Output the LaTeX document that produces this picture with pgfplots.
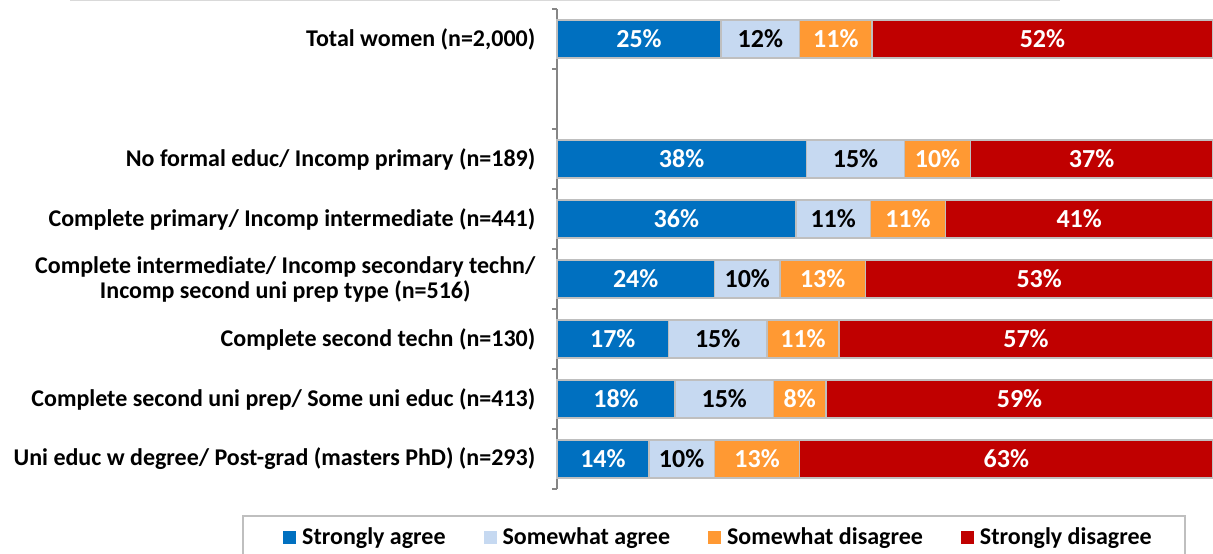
\documentclass[border=0pt]{standalone}
\usepackage{fontspec}
\setmainfont{Carlito}
\usepackage{pgfplots}
\usepackage{pgfplotstable}
\pgfplotsset{compat=1.18}
\definecolor{cSA}{HTML}{0070C0}
\definecolor{cWA}{HTML}{C6D9F1}
\definecolor{cWD}{HTML}{FF9933}
\definecolor{cSD}{HTML}{C00000}
\definecolor{cEdge}{HTML}{BFBFBF}
\definecolor{cAxis}{HTML}{868686}
% lengths (sa wa wd sd) and printed labels (la lb lc ld)
\pgfplotstableread{
pos sa wa wd sd la lb lc ld
0 25 12 11 52 25 12 11 52
2 38 15 10 37 38 15 10 37
3 36.4 11.4 11.4 40.8 36 11 11 41
4 24 10 13 53 24 10 13 53
5 17 15 11 57 17 15 11 57
6 18 15 8 59 18 15 8 59
7 14 10 13 63 14 10 13 63
}\datatable
\newcommand{\lblfont}{\fontsize{24}{25}\selectfont\bfseries}
\newcommand{\barfont}{\fontsize{26}{28}\selectfont\bfseries}
\begin{document}
\begin{tikzpicture}[font=\lblfont]
\begin{axis}[
  at={(0pt,0pt)}, anchor=south west,
  scale only axis, width=656pt, height=480pt,
  xbar stacked, bar width=38pt,
  xmin=0, xmax=100, ymin=-0.5, ymax=7.5, y dir=reverse,
  axis x line=none, axis y line*=left,
  y axis line style={draw=cAxis, line width=1.5pt, -},
  ytick={0,2,3,4,5,6,7},
  yticklabels={Total women (n=2{,}000),
    No formal educ/ Incomp primary (n=189),
    Complete primary/ Incomp intermediate (n=441),
    {Complete intermediate/ Incomp secondary techn/\\Incomp second uni prep type (n=516)},
    Complete second techn (n=130),
    Complete second uni prep/ Some uni educ (n=413),
    Uni educ w degree/ Post-grad (masters PhD) (n=293)},
  major tick length=0pt,
  minor ytick={-0.5,0.5,...,7.5},
  minor tick length=5pt, tick align=outside,
  minor tick style={draw=cAxis, line width=1.5pt},
  yticklabel style={align=center, inner sep=0pt, xshift=-21.5pt, font=\lblfont, text=black},
  point meta=explicit symbolic,
  nodes near coords={\pgfplotspointmeta\%},
  every node near coord/.style={anchor=center, font=\barfont},
  legend columns=4,
  legend style={draw=none, fill=none, inner sep=0pt, at={(-0.4177,-0.1)}, anchor=west,
    font=\lblfont, nodes={inner sep=0pt},
    /tikz/every odd column/.append style={column sep=6pt},
    /tikz/every even column/.append style={column sep=38pt}},
  legend image code/.code={\fill[#1,draw=none] (0pt,-6.5pt) rectangle (13pt,6.5pt);},
  clip=false,
]
\addplot[fill=cSA, draw=cEdge, line width=1.5pt,
  every node near coord/.append style={text=white}] table[x=sa,y=pos,meta=la]{\datatable};
\addplot[fill=cWA, draw=cEdge, line width=1.5pt,
  every node near coord/.append style={text=black}] table[x=wa,y=pos,meta=lb]{\datatable};
\addplot[fill=cWD, draw=cEdge, line width=1.5pt,
  every node near coord/.append style={text=white}] table[x=wd,y=pos,meta=lc]{\datatable};
\addplot[fill=cSD, draw=cEdge, line width=1.5pt,
  every node near coord/.append style={text=white}] table[x=sd,y=pos,meta=ld]{\datatable};
\legend{Strongly agree, Somewhat agree, Somewhat disagree, Strongly disagree}
\end{axis}
\draw[color=black!15, line width=2pt] (-487pt,489pt) -- (503pt,489pt);
\draw[color=cEdge, line width=1.5pt] (-314pt,-27pt) rectangle (628pt,-90pt);
\pgfresetboundingbox
\path[use as bounding box] (-557pt,-65pt) rectangle (656pt,489pt);
\end{tikzpicture}
\end{document}
